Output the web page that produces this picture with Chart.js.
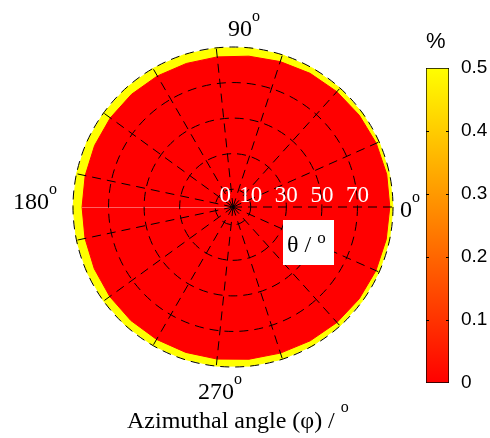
<!DOCTYPE html>
<html>
<head>
<meta charset="utf-8">
<script src="https://cdn.jsdelivr.net/npm/chart.js@4.4.1/dist/chart.umd.min.js"></script>
<style>
  html,body{margin:0;padding:0;background:#fff;}
  #wrap{position:relative;width:490px;height:438px;}
  #polar{position:absolute;left:0;top:0;}
  #cbar{position:absolute;left:410px;top:0;}
</style>
</head>
<body>
<div id="wrap">
  <canvas id="polar" width="490" height="438"></canvas>
  <canvas id="cbar" width="80" height="438"></canvas>
</div>
<script>
// azimuth of each mesh edge, degrees counter-clockwise from 0
const phi = [0,12,24,36,48,60,72,84,96,108,120,132,144,156,168,180,192,204,216,228,240,252,264,276,288,300,312,324,336,348];
// theta where the 0 % (red) region stops, per azimuth
const redTheta = [88.2,88.4,88.2,87.8,87.3,86.8,86.0,85.3,84.9,84.9,85.1,85.3,85.3,85.2,85.0,84.9,85.1,85.4,85.7,85.9,86.0,86.0,86.0,86.1,86.4,86.9,87.4,87.8,88.0,88.1];
// the 0.5 % (yellow) rim runs out to the edge
const rimTheta = [90,90,90,90,90,90,90,90,90,90,90,90,90,90,90,90,90,90,90,90,90,90,90,90,90,90,90,90,90,90];
const thetaTicks = [0,10,30,50,70,90];
const thetaLabels = ['0','10','30','50','70'];
const angleLabels = ['0','90','180','270'];
const cbTicks = [0,0.1,0.2,0.3,0.4,0.5];
const spokeStep = 24;

const SERIF = '"Liberation Serif","Times New Roman",serif';
const SANS = '"Liberation Sans",Arial,sans-serif';
const dash = [9,6];

// radar goes clockwise on screen, so walk the azimuths backwards
const order = phi.map((_, i) => (phi.length - i) % phi.length);
const labels = order.map(k => phi[k]);

function supText(ctx, main, x, y, size, supSize, raise){
  ctx.font = size + 'px ' + SERIF;
  ctx.textAlign = 'left';
  ctx.textBaseline = 'alphabetic';
  ctx.fillText(main, x, y);
  const w = ctx.measureText(main).width;
  ctx.font = supSize + 'px ' + SERIF;
  ctx.fillText('o', x + w, y - raise);
}

const seamLine = {
  id: 'seam',
  afterDatasetsDraw(chart){
    const s = chart.scales.r;
    const i = labels.indexOf(180);
    const p = s.getPointPositionForValue(i, redTheta[phi.indexOf(180)]);
    const c = chart.ctx;
    c.save();
    c.strokeStyle = 'rgba(255,120,120,0.8)';
    c.lineWidth = 1;
    c.beginPath();
    c.moveTo(s.xCenter, s.yCenter + 0.5);
    c.lineTo(p.x, p.y + 0.5);
    c.stroke();
    c.restore();
  }
};

const polarText = {
  id: 'polarText',
  afterDraw(chart){
    const s = chart.scales.r;
    const c = chart.ctx;
    const xc = s.xCenter, yc = s.yCenter, R = s.drawingArea;
    c.save();
    // theta labels
    c.fillStyle = '#fff';
    c.font = '23px ' + SERIF;
    c.textBaseline = 'alphabetic';
    thetaLabels.forEach(t => {
      const v = Number(t);
      if (v === 0){ c.textAlign = 'right'; c.fillText(t, xc - 2, yc - 5); }
      else { c.textAlign = 'center'; c.fillText(t, xc + s.getDistanceFromCenterForValue(v), yc - 5); }
    });
    // azimuth labels
    c.fillStyle = '#000';
    const spots = {
      '0':   [xc + R + 7,  yc + 10],
      '90':  [xc - 5,      yc - R - 11],
      '180': [xc - R - 60, yc + 2],
      '270': [xc - 35,     yc + R + 32]
    };
    angleLabels.forEach(a => supText(c, a, spots[a][0], spots[a][1], 24, 16, 15));
    // theta unit box
    c.fillStyle = '#fff';
    c.fillRect(xc + 50, yc + 13, 51, 45);
    c.fillStyle = '#000';
    supText(c, 'θ / ', xc + 54, yc + 45, 24, 17, 9);
    // axis label
    supText(c, 'Azimuthal angle (φ) / ', xc - 106, yc + 221, 24, 16, 16);
    c.restore();
  }
};

new Chart(document.getElementById('polar'), {
  type: 'radar',
  data: {
    labels: labels,
    datasets: [
      { label: 'red', data: order.map(k => redTheta[k]), fill: 'origin',
        backgroundColor: '#ff0000', borderColor: '#ff0000', borderWidth: 1, pointRadius: 0, tension: 0 },
      { label: 'rim', data: order.map(k => rimTheta[k]), fill: 'origin',
        backgroundColor: '#ffff00', borderColor: '#ffff00', borderWidth: 1, pointRadius: 0, tension: 0 }
    ]
  },
  options: {
    responsive: false,
    animation: false,
    devicePixelRatio: 1,
    events: [],
    layout: { padding: { left: 73, top: 47, right: 97, bottom: 71 } },
    plugins: { legend: { display: false }, tooltip: { enabled: false } },
    scales: {
      r: {
        min: 0, max: 90, startAngle: 90,
        afterBuildTicks: s => { s.ticks = thetaTicks.map(v => ({ value: v })); },
        ticks: { display: false },
        pointLabels: { display: false },
        grid: { circular: true, color: '#000', lineWidth: 1, borderDash: dash, z: 1 },
        border: { dash: dash },
        angleLines: {
          display: true, lineWidth: 1, borderDash: dash,
          color: ctx => (Number(ctx.label) % spokeStep === 0 ? '#000' : 'rgba(0,0,0,0)')
        }
      }
    }
  },
  plugins: [seamLine, polarText]
});

// colour bar
const cbInnerTicks = {
  id: 'cbInnerTicks',
  afterDatasetsDraw(chart){
    const y = chart.scales.y, a = chart.chartArea, c = chart.ctx;
    c.save();
    c.strokeStyle = '#000';
    c.lineWidth = 1;
    cbTicks.slice(1, -1).forEach(v => {
      const py = Math.round(y.getPixelForValue(v)) + 0.5;
      c.beginPath();
      c.moveTo(a.left, py); c.lineTo(a.left + 3, py);
      c.moveTo(a.right - 3, py); c.lineTo(a.right, py);
      c.stroke();
    });
    c.restore();
  }
};

new Chart(document.getElementById('cbar'), {
  type: 'bar',
  data: {
    labels: ['%'],
    datasets: [{
      data: [cbTicks[cbTicks.length - 1]],
      backgroundColor: ctx => {
        const ch = ctx.chart, y = ch.scales.y;
        if (!ch.chartArea || !y) return '#ff8000';
        const g = ch.ctx.createLinearGradient(0, y.getPixelForValue(cbTicks[0]), 0, y.getPixelForValue(cbTicks[cbTicks.length - 1]));
        g.addColorStop(0, '#ff0000');
        g.addColorStop(1, '#ffff00');
        return g;
      },
      borderColor: '#000', borderWidth: 1, borderSkipped: false,
      barPercentage: 1, categoryPercentage: 1
    }]
  },
  options: {
    responsive: false,
    animation: false,
    devicePixelRatio: 1,
    events: [],
    layout: { padding: { left: 16, top: 27, right: 0, bottom: 55 } },
    plugins: {
      legend: { display: false },
      tooltip: { enabled: false },
      title: { display: true, text: '%', align: 'start', color: '#000',
        font: { family: SANS, size: 22, weight: 'normal', lineHeight: 1.2 }, padding: { top: 2, bottom: 12.6 } }
    },
    scales: {
      x: { display: false },
      y: {
        position: 'right', min: 0, max: 0.5,
        afterBuildTicks: s => { s.ticks = cbTicks.map(v => ({ value: v })); },
        afterFit: s => { s.width = 41; },
        grid: { display: false },
        border: { display: false },
        ticks: { color: '#000', padding: 4, font: { family: SANS, size: 19 } }
      }
    }
  },
  plugins: [cbInnerTicks]
});
</script>
</body>
</html>
